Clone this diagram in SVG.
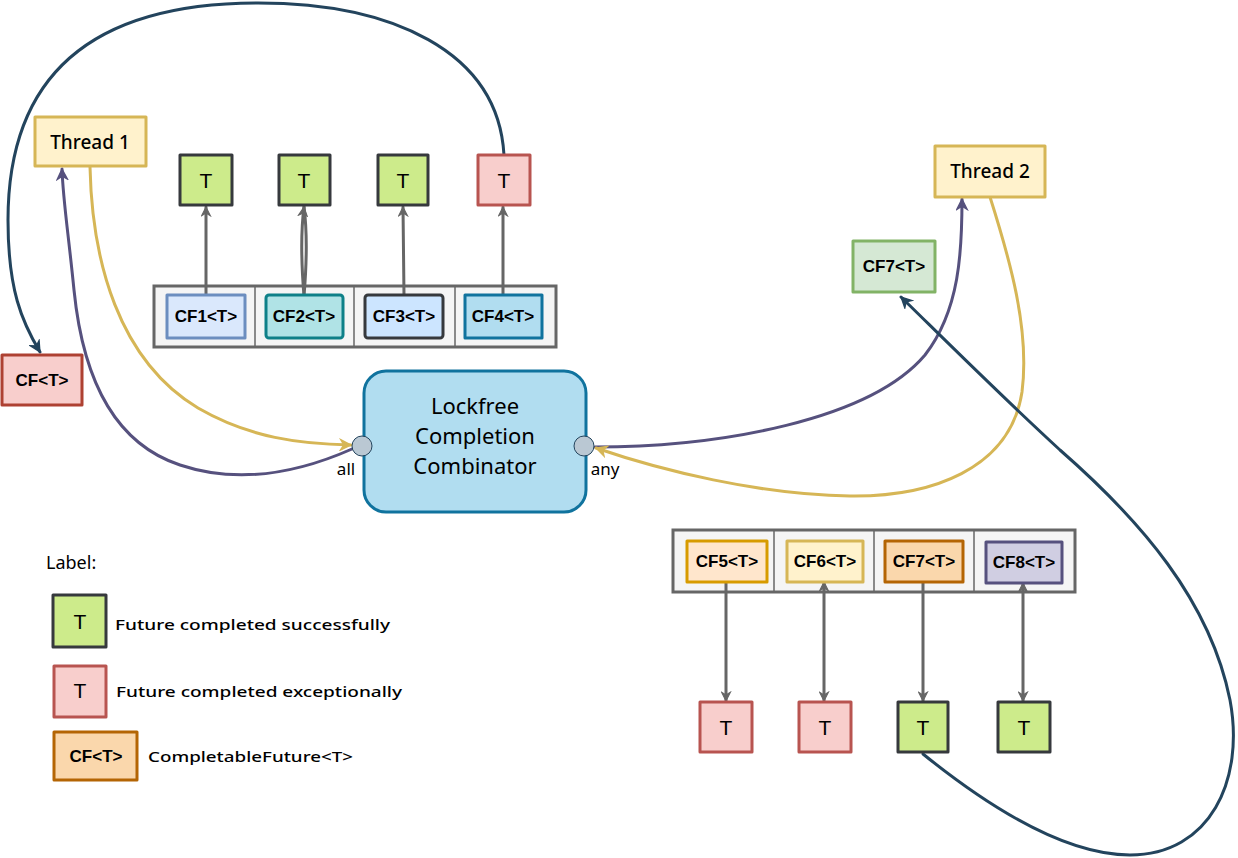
<svg xmlns="http://www.w3.org/2000/svg" width="1238" height="858" viewBox="0 0 1238 858">
<defs>
<style>
.box{stroke-width:3;stroke-linejoin:round}
.cont{fill:#f5f5f5;stroke:#666666;stroke-width:3}
.div{stroke:#666666;stroke-width:1.5}
.cf{font-family:"Liberation Sans",Arial,sans-serif;font-weight:bold;font-size:17px;fill:#000;text-anchor:middle}
.t{font-family:"Liberation Sans",Arial,sans-serif;font-size:21px;fill:#000;text-anchor:middle}
.hand{font-family:"Noto Sans",sans-serif;fill:#000}
.green{fill:#cdeb8b;stroke:#36393d}
.red{fill:#f8cecc;stroke:#b85450}
.conn{fill:none;stroke-linecap:round}
.gray{stroke:#666666;stroke-width:3}
.purple{stroke:#56517e;stroke-width:3}
.yellow{stroke:#d6b656;stroke-width:3}
.navy{stroke:#23445d;stroke-width:3}
</style>
<marker id="aGray" viewBox="0 0 10 10" refX="9" refY="5" markerWidth="11" markerHeight="11" markerUnits="userSpaceOnUse" orient="auto-start-reverse"><path d="M1,1 L9,5 L1,9 L3.5,5 Z" fill="#666666" stroke="#666666" stroke-width="1"/></marker>
<marker id="aPurple" viewBox="0 0 10 10" refX="9" refY="5" markerWidth="13" markerHeight="13" markerUnits="userSpaceOnUse" orient="auto"><path d="M1,1 L9,5 L1,9 L3.5,5 Z" fill="#56517e" stroke="#56517e" stroke-width="1"/></marker>
<marker id="aYellow" viewBox="0 0 10 10" refX="9" refY="5" markerWidth="13" markerHeight="13" markerUnits="userSpaceOnUse" orient="auto"><path d="M1,1 L9,5 L1,9 L3.5,5 Z" fill="#d6b656" stroke="#d6b656" stroke-width="1"/></marker>
<marker id="aNavy" viewBox="0 0 10 10" refX="9" refY="5" markerWidth="13" markerHeight="13" markerUnits="userSpaceOnUse" orient="auto"><path d="M1,1 L9,5 L1,9 L3.5,5 Z" fill="#23445d" stroke="#23445d" stroke-width="1"/></marker>
</defs>
<rect width="1238" height="858" fill="#ffffff"/>

<g id="containerTop">
<rect class="cont" x="154" y="286" width="402" height="61"/>
<line class="div" x1="255" y1="287" x2="255" y2="346"/>
<line class="div" x1="354" y1="287" x2="354" y2="346"/>
<line class="div" x1="455" y1="287" x2="455" y2="346"/>
</g>
<g id="containerBottom">
<rect class="cont" x="673" y="530" width="402" height="62"/>
<line class="div" x1="774" y1="531" x2="774" y2="591"/>
<line class="div" x1="874" y1="531" x2="874" y2="591"/>
<line class="div" x1="974" y1="531" x2="974" y2="591"/>
</g>

<g id="connectors">
<path class="conn gray" d="M206 296 L206 207" marker-end="url(#aGray)"/>
<path class="conn gray" d="M304 296 C301 260 301 230 304 207" marker-end="url(#aGray)"/>
<path class="conn gray" d="M304 296 C307 260 307 230 304 207"/>
<path class="conn gray" d="M404 296 L403 207" marker-end="url(#aGray)"/>
<path class="conn gray" d="M503 296 L503 207" marker-end="url(#aGray)"/>
<path class="conn gray" d="M726 582 L726 701" marker-end="url(#aGray)"/>
<path class="conn gray" d="M824 582 L824 701" marker-end="url(#aGray)" marker-start="url(#aGray)"/>
<path class="conn gray" d="M923 583 L923 701" marker-end="url(#aGray)"/>
<path class="conn gray" d="M1023 583 L1023 701" marker-end="url(#aGray)" marker-start="url(#aGray)"/>
<path class="conn navy" d="M504 155 C498 50 390 3 258 3 C110 3 8 60 8 220 C8 290 22 322 40 352" marker-end="url(#aNavy)"/>
<path class="conn purple" d="M352 449 C300 472 240 485 180 465 C110 442 82 370 74 290 C68 230 63 200 62 169" marker-end="url(#aPurple)"/>
<path class="conn yellow" d="M90 167 C92 260 118 360 198 408 C250 438 300 444 351 445" marker-end="url(#aYellow)"/>
<path class="conn purple" d="M595 447 C720 447 870 420 925 355 C960 310 962 250 962 199" marker-end="url(#aPurple)"/>
<path class="conn yellow" d="M990 197 C1010 260 1030 330 1022 392 C1010 470 930 497 850 496 C760 495 660 470 596 448" marker-end="url(#aYellow)"/>
<path class="conn navy" d="M923 754 C980 800 1060 855 1130 855 C1210 855 1245 780 1230 700 C1210 600 1140 520 1060 450 C1000 395 940 335 901 297" marker-end="url(#aNavy)"/>
</g>

<g id="thread1"><rect class="box" x="35" y="117" width="111" height="49" fill="#fff2cc" stroke="#d6b656"/><text class="hand" x="90" y="149" font-size="19" font-weight="500" text-anchor="middle">Thread 1</text></g>
<g id="thread2"><rect class="box" x="935" y="146" width="110" height="51" fill="#fff2cc" stroke="#d6b656"/><text class="hand" x="990" y="178" font-size="19" font-weight="500" text-anchor="middle">Thread 2</text></g>

<g id="t1"><rect class="box green" x="180" y="155" width="52" height="50"/><text class="t" x="206" y="188">T</text></g>
<g id="t2"><rect class="box green" x="279" y="155" width="51" height="50"/><text class="t" x="304" y="188">T</text></g>
<g id="t3"><rect class="box green" x="378" y="155" width="50" height="50"/><text class="t" x="403" y="188">T</text></g>
<g id="t4"><rect class="box red" x="478" y="155" width="52" height="50"/><text class="t" x="504" y="188">T</text></g>

<g id="cf1"><rect class="box" x="167" y="295" width="78" height="43" fill="#dae8fc" stroke="#6c8ebf"/><text class="cf" x="206" y="322">CF1&lt;T&gt;</text></g>
<g id="cf2"><rect class="box" x="266" y="295" width="77" height="43" rx="3" fill="#b0e3e6" stroke="#0e8088"/><text class="cf" x="304" y="322">CF2&lt;T&gt;</text></g>
<g id="cf3"><rect class="box" x="365" y="295" width="78" height="43" rx="3" fill="#cce5ff" stroke="#36393d"/><text class="cf" x="404" y="322">CF3&lt;T&gt;</text></g>
<g id="cf4"><rect class="box" x="465" y="295" width="77" height="43" fill="#b1ddf0" stroke="#10739e"/><text class="cf" x="503" y="322">CF4&lt;T&gt;</text></g>

<g id="cfLeft"><rect class="box" x="2" y="355" width="80" height="50" fill="#f8cecc" stroke="#ae4132"/><text class="cf" x="42" y="386">CF&lt;T&gt;</text></g>

<g id="combinator">
<rect class="box" x="364" y="371" width="222" height="141" rx="22" fill="#b1ddf0" stroke="#10739e"/>
<text class="hand" font-size="22" text-anchor="middle"><tspan x="475" y="414">Lockfree</tspan><tspan x="475" y="444">Completion</tspan><tspan x="475" y="474">Combinator</tspan></text>
</g>
<g id="portAll"><circle cx="362" cy="446" r="10" fill="#bac8d3" stroke="#23445d" stroke-width="1"/><text class="hand" x="346" y="475" font-size="17" text-anchor="middle">all</text></g>
<g id="portAny"><circle cx="584" cy="446" r="10" fill="#bac8d3" stroke="#23445d" stroke-width="1"/><text class="hand" x="605" y="475" font-size="17" text-anchor="middle">any</text></g>

<g id="cf7top"><rect class="box" x="853" y="241" width="82" height="51" fill="#d5e8d4" stroke="#82b366"/><text class="cf" x="894" y="272">CF7&lt;T&gt;</text></g>

<g id="cf5"><rect class="box" x="687" y="541" width="80" height="41" fill="#ffe6cc" stroke="#d79b00"/><text class="cf" x="727" y="567">CF5&lt;T&gt;</text></g>
<g id="cf6"><rect class="box" x="787" y="541" width="76" height="41" fill="#fff2cc" stroke="#d6b656"/><text class="cf" x="825" y="567">CF6&lt;T&gt;</text></g>
<g id="cf7"><rect class="box" x="885" y="541" width="78" height="41" fill="#fad7ac" stroke="#b46504"/><text class="cf" x="924" y="567">CF7&lt;T&gt;</text></g>
<g id="cf8"><rect class="box" x="986" y="542" width="76" height="41" fill="#d0cee2" stroke="#56517e"/><text class="cf" x="1024" y="568">CF8&lt;T&gt;</text></g>

<g id="t5"><rect class="box red" x="700" y="702" width="52" height="50"/><text class="t" x="726" y="735">T</text></g>
<g id="t6"><rect class="box red" x="799" y="702" width="52" height="50"/><text class="t" x="825" y="735">T</text></g>
<g id="t7"><rect class="box green" x="898" y="702" width="50" height="50"/><text class="t" x="923" y="735">T</text></g>
<g id="t8"><rect class="box green" x="998" y="702" width="52" height="50"/><text class="t" x="1024" y="735">T</text></g>

<g id="legend">
<text class="hand" x="46" y="569" font-size="18">Label:</text>
<rect class="box green" x="53" y="595" width="53" height="52"/><text class="t" x="80" y="629">T</text>
<text class="hand" x="115" y="630" font-size="15" font-weight="500" textLength="275" lengthAdjust="spacingAndGlyphs">Future completed successfully</text>
<rect class="box red" x="54" y="666" width="52" height="51"/><text class="t" x="80" y="698" font-size="18">T</text>
<text class="hand" x="116" y="697" font-size="15" font-weight="500" textLength="286" lengthAdjust="spacingAndGlyphs">Future completed exceptionally</text>
<rect class="box" x="54" y="732" width="83" height="48" fill="#fad7ac" stroke="#b46504"/><text class="cf" x="96" y="762">CF&lt;T&gt;</text>
<text class="hand" x="148" y="762" font-size="15" font-weight="500" textLength="205" lengthAdjust="spacingAndGlyphs">CompletableFuture&lt;T&gt;</text>
</g>
</svg>
